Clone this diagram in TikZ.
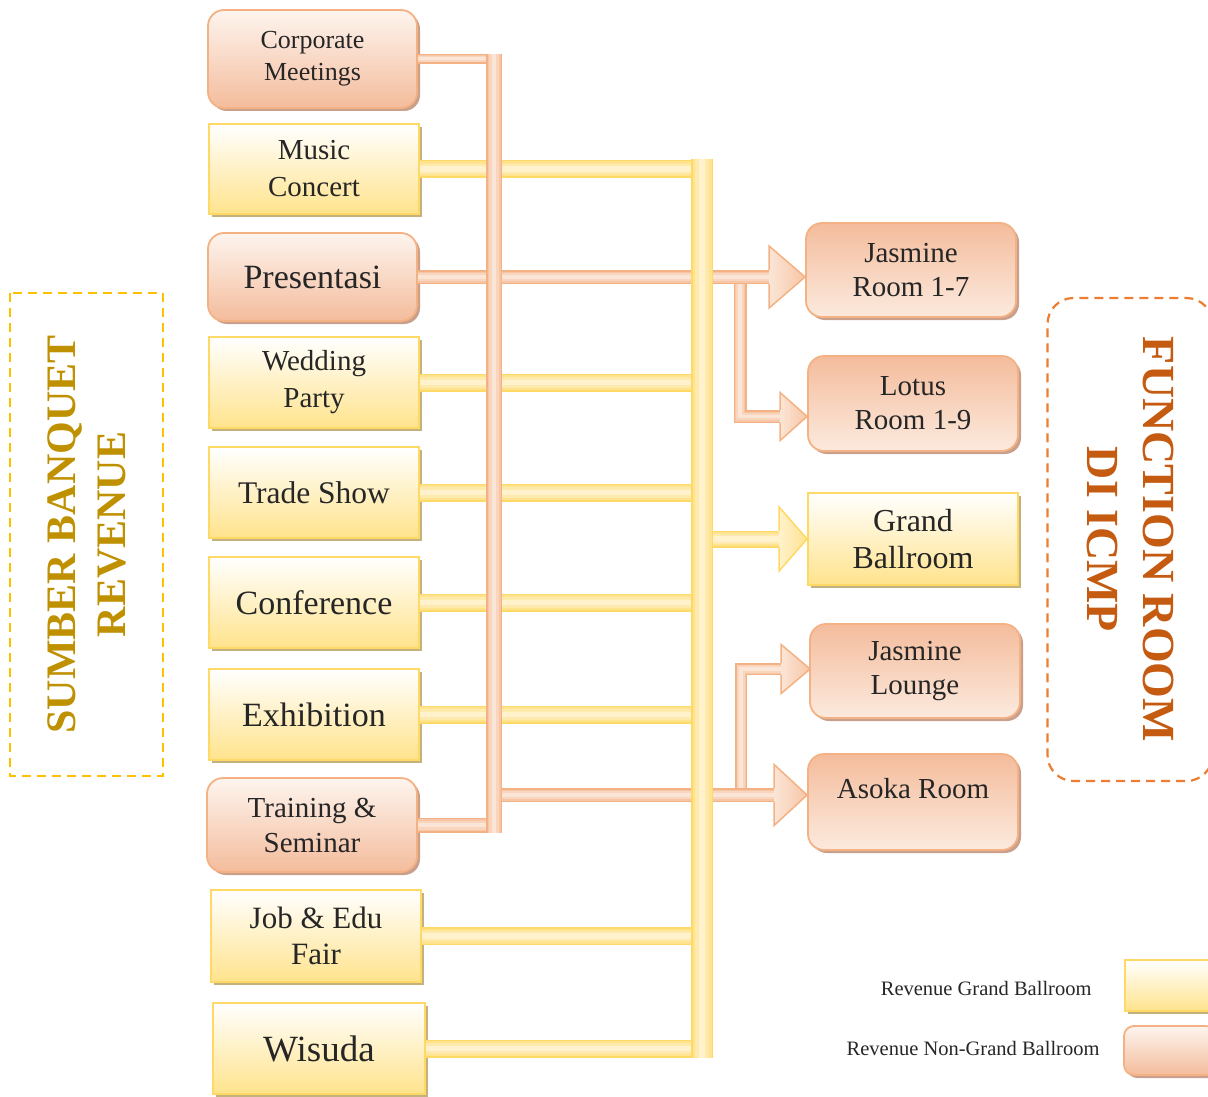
\documentclass[tikz,border=0pt]{standalone}
\usepackage{fontspec}
\setmainfont{Liberation Serif}
\usetikzlibrary{shadows,calc}
\definecolor{yB}{HTML}{FFD966}
\definecolor{yM}{HTML}{FFE38F}
\definecolor{yL}{HTML}{FFF2CC}
\definecolor{yD}{HTML}{FFE38C}
\definecolor{yS}{HTML}{C4B27E}
\definecolor{sB}{HTML}{F4B183}
\definecolor{sM}{HTML}{F7C6A6}
\definecolor{sL}{HTML}{FBE5D6}
\definecolor{sD}{HTML}{F4BC9C}
\definecolor{sS}{HTML}{C9A08C}
\definecolor{txt}{HTML}{262626}
\definecolor{tY}{HTML}{FFC000}
\definecolor{tYt}{HTML}{BF9000}
\definecolor{tO}{HTML}{ED7D31}
\definecolor{tOt}{HTML}{C55A11}
\newcommand\fsz[2]{\fontsize{#1}{#2}\selectfont}
\newcommand\bhead[5]{\draw[#5] ($(#1)+(-#2,#4)$) -- ($(#1)+(-#2,#3)$) -- (#1) -- ($(#1)+(-#2,-#3)$) -- ($(#1)+(-#2,-#4)$);}
\tikzset{
 boxbase/.style={line width=1.8pt, minimum width=210pt, minimum height=91pt, align=center, text=txt, inner sep=2pt},
 ybox/.style={boxbase, draw=yB, top color=white, bottom color=yD,
   drop shadow={shadow xshift=3pt, shadow yshift=-3pt, fill=yS, opacity=1}},
 sbox/.style={boxbase, draw=sB, rounded corners=16pt, top color=white!60!sL, bottom color=sD,
   drop shadow={shadow xshift=3pt, shadow yshift=-3pt, fill=sS, opacity=1}},
 rbox/.style={boxbase, draw=sB, rounded corners=16pt, top color=sD, bottom color=sL!80!white,
   drop shadow={shadow xshift=3pt, shadow yshift=-3pt, fill=sS, opacity=1}},
 sbar/.style={line width=#1, draw=sB, postaction={draw=sM, line width=#1-3pt},
   postaction={draw=sM!50!sL, line width=0.6*#1}, postaction={draw=sL, line width=0.3*#1}},
 ybar/.style={line width=#1, draw=yB, postaction={draw=yM, line width=#1-3pt},
   postaction={draw=yM!50!yL, line width=0.6*#1}, postaction={draw=yL, line width=0.3*#1}},
 shead/.style={draw=sB, line width=1.5pt, left color=sL, right color=sM},
 yhead/.style={draw=yB, line width=1.5pt, left color=yL, right color=yM},
}
\begin{document}
\begin{tikzpicture}[x=1pt,y=-1pt]
\useasboundingbox (0,0) rectangle (1208,1097);

% title boxes
\node[draw=tY, line width=2.2pt, dash pattern=on 9pt off 6pt, rotate=90,
  minimum width=483pt, minimum height=153pt, align=center, text=tYt,
  font=\bfseries\fsz{42}{50}] (src) at (86.5,534.5) {SUMBER BANQUET\\REVENUE};
\node[draw=tO, line width=2.2pt, dash pattern=on 9pt off 6pt, rounded corners=26pt, rotate=-90,
  minimum width=483pt, minimum height=165pt, align=center, text=tOt,
  font=\bfseries\fsz{46}{56}] (dst) at (1130,539.5) {FUNCTION ROOM\\DI ICMP};

% left column
\node[sbox, minimum width=209pt, minimum height=98pt, font=\fsz{26}{32}] (corp) at (312.5,59) {Corporate\\Meetings};
\node[ybox, minimum height=90pt, font=\fsz{29}{37}] (music) at (314,169) {Music\\Concert};
\node[sbox, minimum width=209pt, minimum height=88pt, font=\fsz{34}{40}] (pres) at (312.5,277) {Presentasi};
\node[ybox, font=\fsz{29}{37}] (wed) at (314,382.5) {Wedding\\Party};
\node[ybox, font=\fsz{31.5}{38}] (trade) at (314,492.5) {Trade Show};
\node[ybox, font=\fsz{34}{40}] (conf) at (314,602.5) {Conference};
\node[ybox, font=\fsz{34}{40}] (exhi) at (314,714.5) {Exhibition};
\node[sbox, minimum width=210pt, minimum height=94pt, font=\fsz{29}{35}] (train) at (312,825) {Training \&\\Seminar};
\node[ybox, minimum height=92pt, font=\fsz{31}{36}] (job) at (316,936) {Job \& Edu\\Fair};
\node[ybox, minimum width=212pt, font=\fsz{37}{42}] (wisuda) at (319,1048.5) {Wisuda};

% right column
\node[rbox, minimum height=94pt, font=\fsz{29}{34}] (jasR) at (911,270) {Jasmine\\Room 1-7};
\node[rbox, minimum height=95pt, font=\fsz{29}{34}] (lotus) at (913,403.5) {Lotus\\Room 1-9};
\node[ybox, minimum height=92pt, font=\fsz{32}{37}] (grand) at (913,539) {Grand\\Ballroom};
\node[rbox, minimum height=94pt, font=\fsz{29}{34}] (jasL) at (915,671) {Jasmine\\Lounge};
\node[rbox, minimum height=96pt, font=\fsz{29}{35}] (asoka) at (913,802) {Asoka Room\\[-8pt]~};

% legend
\node[anchor=east, text=txt, font=\fsz{20.5}{24}] (lt1) at (1095,988) {Revenue Grand Ballroom};
\node[anchor=east, text=txt, font=\fsz{20.5}{24}] (lt2) at (1103,1048) {Revenue Non-Grand Ballroom};
\node[ybox, minimum width=90pt, minimum height=51pt] (legY) at (1170,985.5) {};
\node[sbox, minimum width=92pt, minimum height=49pt, rounded corners=10pt] (legS) at (1170,1050.5) {};

% coordinates
\coordinate (yt) at (702,159);
\coordinate (yb) at (702,1058);
\coordinate (st) at (494,54);
\coordinate (sb) at (494,833);
\coordinate (jtip) at (jasR.west |- pres.east);
\coordinate (ltip) at ($(lotus.west)+(0,13)$);
\coordinate (atip) at ($(asoka.west)+(0,-7)$);
\coordinate (jltip) at ($(jasL.west)+(1,-2)$);
\coordinate (gtip) at (grand.west);
\coordinate (lb) at (740,280);
\coordinate (jlb) at (741,797);

% yellow horizontals
\draw[ybar=18pt] (music.east) -- ($(music.east -| yt)+(11,0)$);
\foreach \n in {wed,trade,conf,exhi,job} {\draw[ybar=18pt] (\n.east) -- (\n.east -| yt);}
\draw[ybar=18pt] (wisuda.east) -- ($(wisuda.east -| yt)+(11,0)$);

% salmon connectors
\draw[sbar=13pt] (lb) |- ($(ltip)+(-26,0)$);
\draw[sbar=12pt] (jlb) |- ($(jltip)+(-28,0)$);
\draw[sbar=14pt] (pres.east) -- ($(jtip)+(-35,0)$);
\draw[sbar=14pt] (atip -| st) -- ($(atip)+(-32,0)$);
\draw[sbar=10pt] (corp.east) -- ($(corp.east -| st)+(8,0)$);
\draw[sbar=15pt] (train.east) -- (train.east -| st);
\draw[sbar=16pt] (st) -- (sb);

% yellow trunk
\draw[ybar=22pt] (yt) -- (yb);
\draw[ybar=17pt] (gtip -| yt) ++(11,0) -- ($(gtip)+(-27,0)$);

% arrow heads
\bhead{jtip}{36}{31}{7}{shead}
\bhead{ltip}{27}{24}{6.5}{shead}
\bhead{jltip}{29}{24.5}{6}{shead}
\bhead{atip}{33}{30.5}{7}{shead}
\bhead{gtip}{28}{32}{8.5}{yhead}
\end{tikzpicture}
\end{document}
